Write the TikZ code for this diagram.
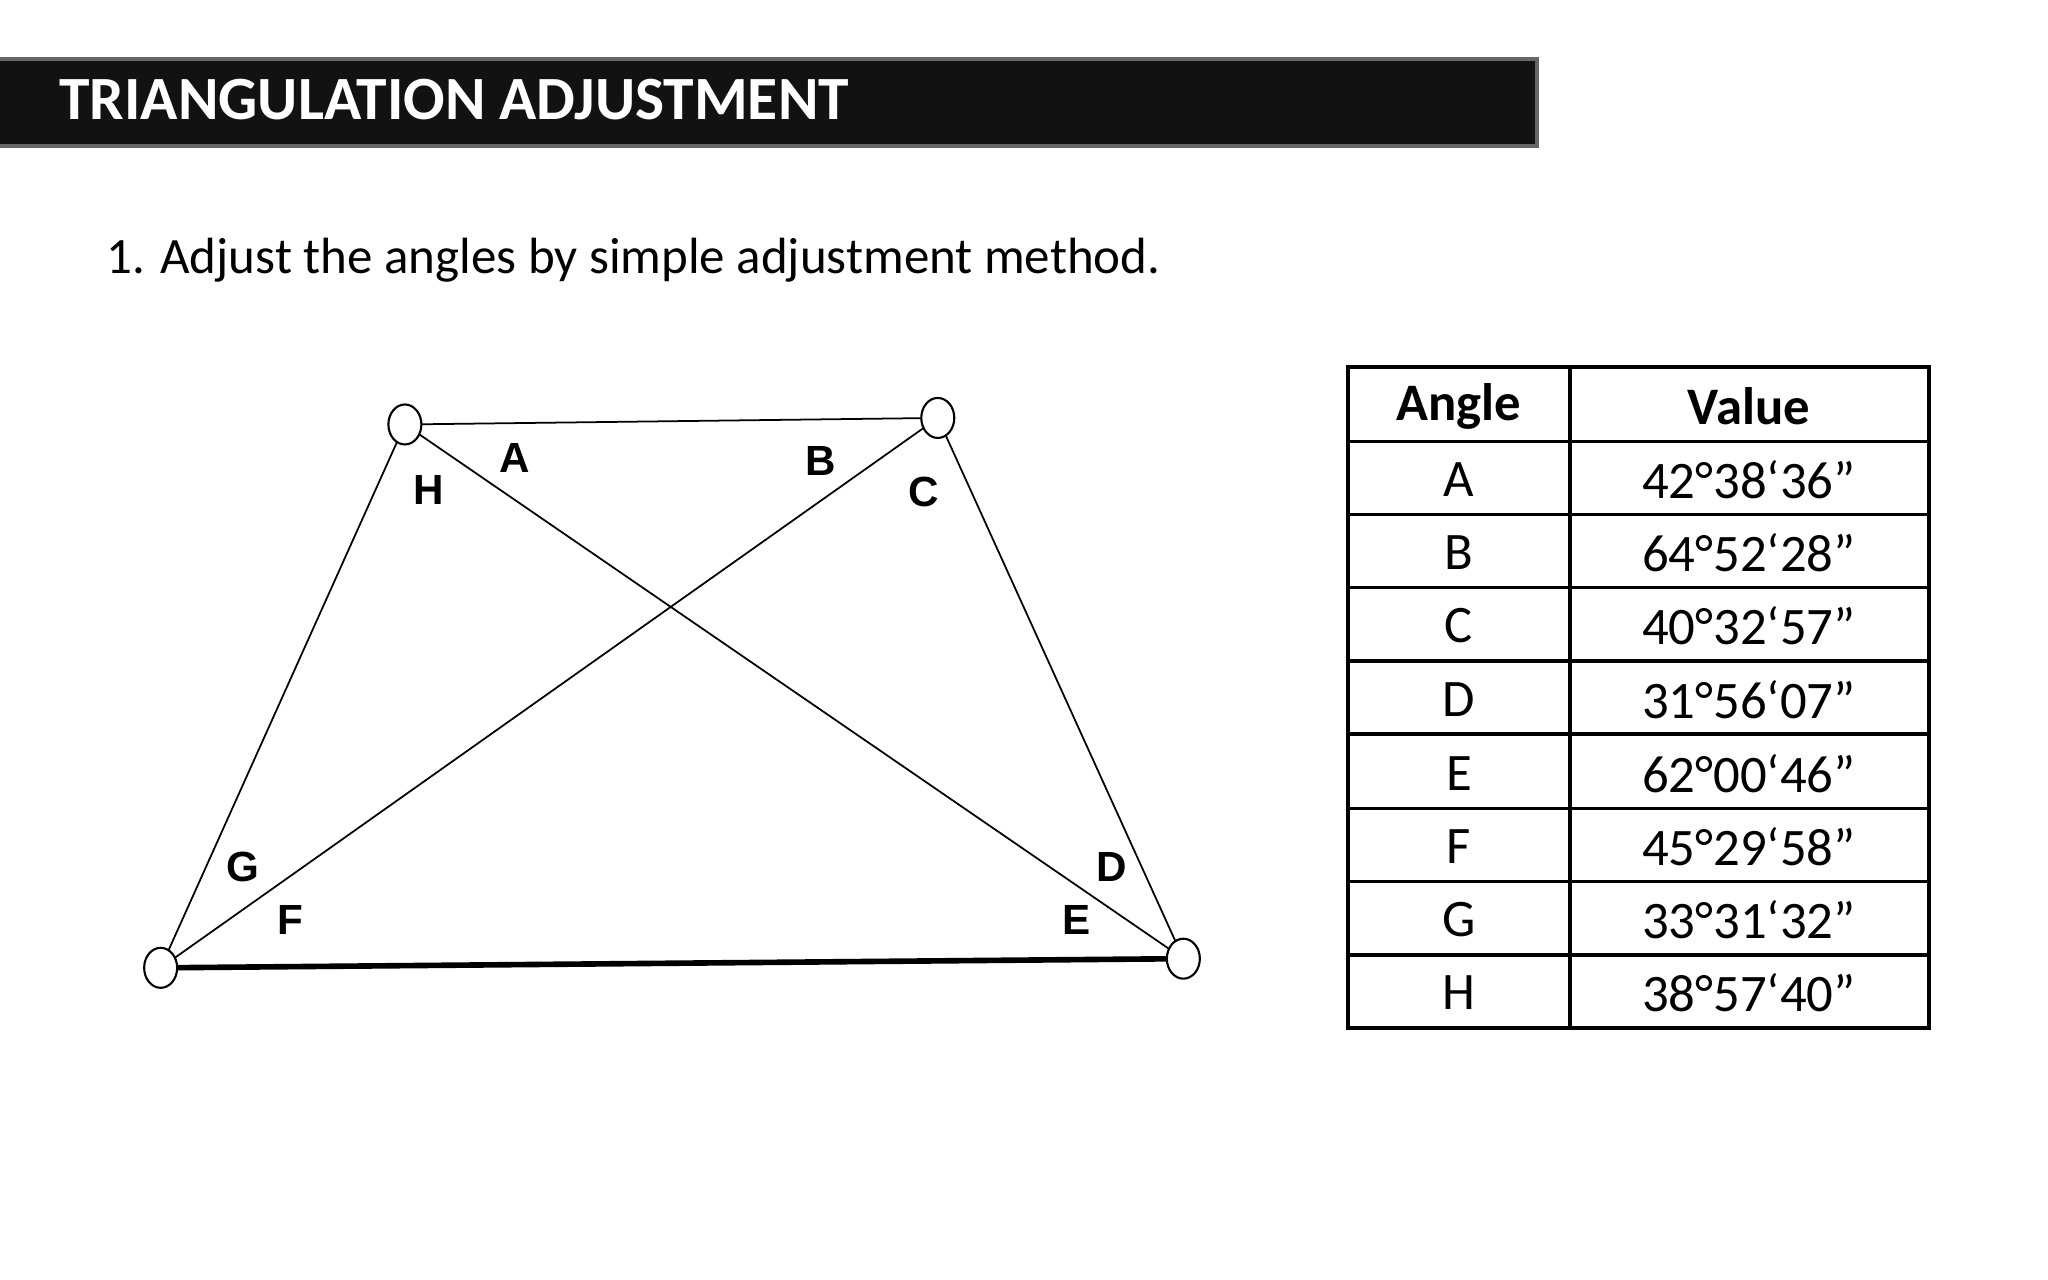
\documentclass[tikz,border=0pt]{standalone}
\usepackage{fontspec}
\usetikzlibrary{shapes.geometric}
\setmainfont{Carlito}
\newfontfamily\arialf{Liberation Sans}
\begin{document}
\begin{tikzpicture}[x=0.01306cm,y=-0.01306cm,
  stn/.style={draw,fill=white,ellipse,line width=0.6pt,minimum width=0.33cm,minimum height=0.4cm,inner sep=0pt},
  lbl/.style={font=\arialf\bfseries\fontsize{12}{14}\selectfont},
  cell/.style={font=\fontsize{15}{18}\selectfont}]
\useasboundingbox (0,0) rectangle (1568,980);
\fill[white] (0,0) rectangle (1568,980);
\draw[fill=black!93,draw=black!60,line width=1.2pt] (-5,45) rectangle (1177,112);
\node[anchor=west,text=white,font=\bfseries\fontsize{17.5}{20}\selectfont] (title) at (36,76) {TRIANGULATION ADJUSTMENT};
\node[anchor=west,font=\fontsize{14.5}{17}\selectfont] (sub) at (72,199) {1. Adjust the angles by simple adjustment method.};
% stations
\coordinate (p1) at (310,325);
\coordinate (p2) at (718,320);
\coordinate (p3) at (123,741);
\coordinate (p4) at (906,734);
\draw[line width=0.5pt] (p1)--(p2) (p1)--(p3) (p2)--(p4) (p1)--(p4) (p2)--(p3);
\draw[line width=1.6pt] (p3)--(p4);
\foreach \p in {p1,p2,p3,p4} \node[stn] (n\p) at (\p) {};
\node[lbl] (lA) at (394,351) {A};
\node[lbl] (lB) at (628,353) {B};
\node[lbl] (lH) at (328,375) {H};
\node[lbl] (lC) at (707,377) {C};
\node[lbl] (lG) at (186,664) {G};
\node[lbl] (lF) at (222,704) {F};
\node[lbl] (lD) at (851,664) {D};
\node[lbl] (lE) at (824,704) {E};
% table
\draw[line width=1pt] (1032,281) rectangle (1477,787);
\draw[line width=1pt] (1202,281)--(1202,787);
\foreach \y in {338,394,450,506,562,619,675,731} \draw[line width=1pt] (1032,\y)--(1477,\y);
\node[cell,font=\bfseries\fontsize{15}{18}\selectfont] (h1) at (1117,311) {Angle};
\node[cell,font=\bfseries\fontsize{15}{18}\selectfont] (h2) at (1339,311) {Value};
\foreach \a/\v/\y in {A/42°38‘36"/367,B/64°52‘28"/423,C/40°32‘57"/479,D/31°56‘07"/536,E/62°00‘46"/592,F/45°29‘58"/648,G/33°31‘32"/704,H/38°57‘40"/760}{
  \node[cell] (r\a) at (1117,\y) {\a};
  \node[cell] (v\a) at (1339,\y) {\v};
}
\end{tikzpicture}
\end{document}
